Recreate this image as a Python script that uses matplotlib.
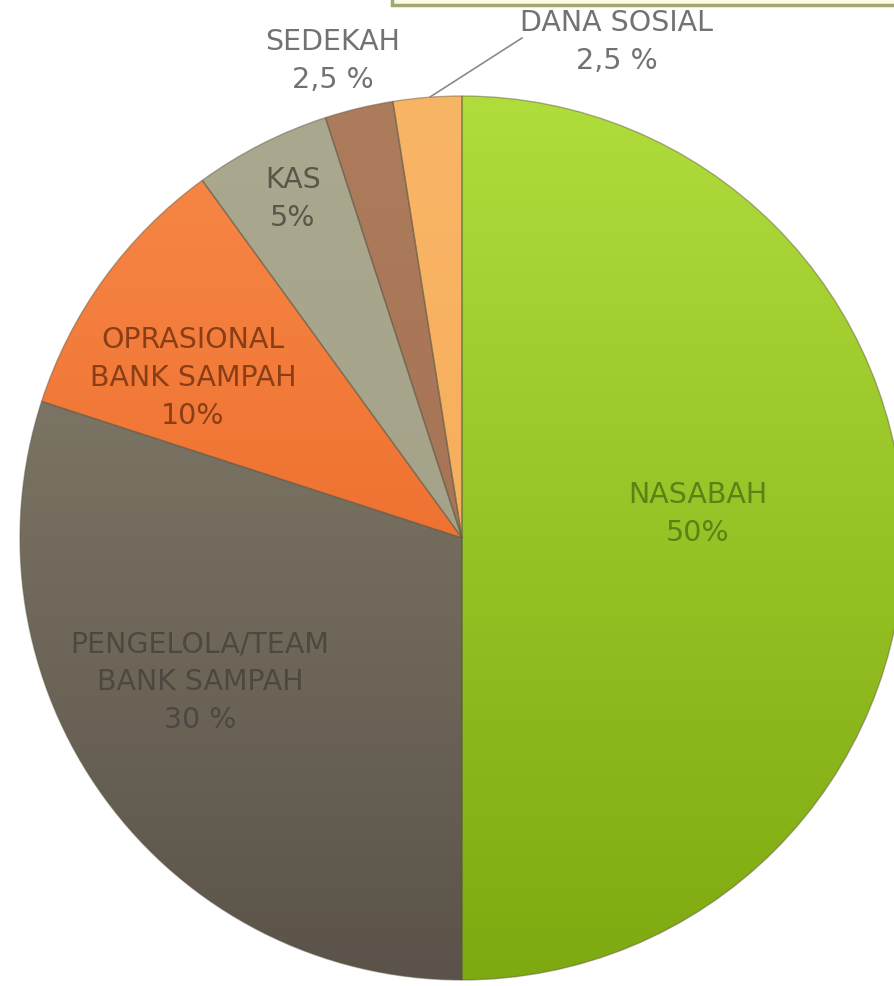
import numpy as np
import matplotlib.pyplot as plt
from matplotlib.colors import to_rgb
from matplotlib.patches import Rectangle

W, H = 894, 986

# Share of each part (percent), clockwise from 12 o'clock
labels = ['NASABAH', 'PENGELOLA/TEAM\nBANK SAMPAH', 'OPRASIONAL\nBANK SAMPAH',
          'KAS', 'SEDEKAH', 'DANA SOSIAL']
values = [50, 30, 10, 5, 2.5, 2.5]
pct_text = ['50%', '30 %', '10%', '5%', '2,5 %', '2,5 %']

# gradient colours (top, bottom) for each slice
col_top = ['#b0dc3c', '#8c8673', '#f88a48', '#aaa98f', '#ad7c5c', '#f9b566']
col_bot = ['#7ea910', '#5b5349', '#e65a1c', '#a09c82', '#9f6c50', '#f4a855']
text_col = ['#527c14', '#4a453d', '#7e3812', '#4f4f42', '#636363', '#636363']

# label centres, pixel coords measured from the top-left corner
lab_x = [698, 200, 193, 293, 333, 617]
lab_y = [514, 682, 378, 199, 61, 42]

cx, cy, r = 462, H - 538, 442

fig = plt.figure(figsize=(W / 100, H / 100), dpi=100)
ax = fig.add_axes([0, 0, 1, 1])

wedges, _ = ax.pie(values, center=(cx, cy), radius=r, startangle=90,
                   counterclock=False, frame=True,
                   wedgeprops=dict(linewidth=1.0))
ax.set_xlim(0, W)
ax.set_ylim(0, H)
ax.set_aspect('equal')
ax.axis('off')

# vertical gradient inside every slice
grad = np.linspace(0, 1, 256)[:, None, None]
for w, ct, cb in zip(wedges, col_top, col_bot):
    w.set_facecolor('none')
    w.set_edgecolor((0.35, 0.33, 0.25, 0.45))
    c1 = np.array(to_rgb(ct))[None, None, :]
    c2 = np.array(to_rgb(cb))[None, None, :]
    img = np.repeat(c1 * (1 - grad) + c2 * grad, 2, axis=1)
    im = ax.imshow(img, extent=(cx - r, cx + r, cy - r, cy + r),
                   origin='upper', zorder=0.5, interpolation='bilinear',
                   aspect='auto')
    im.set_clip_path(w)

# labels
for lab, pct, x, y, tc in zip(labels, pct_text, lab_x, lab_y, text_col):
    ax.text(x, H - y, lab + '\n' + pct, ha='center', va='center',
            fontsize=20.5, color=tc, linespacing=1.45, family='DejaVu Sans',
            alpha=0.9, zorder=3)

# leader line for DANA SOSIAL
ax.plot([522, 430], [H - 38, H - 97], color='#8a8a8a', lw=1.2, zorder=3)

# strip of a text box at the top
ax.add_patch(Rectangle((392, H - 5), 520, 20, facecolor='#fbfbe2',
                       edgecolor='#a3a872', lw=2.5, zorder=4))

fig.savefig('out.png', dpi=100)
